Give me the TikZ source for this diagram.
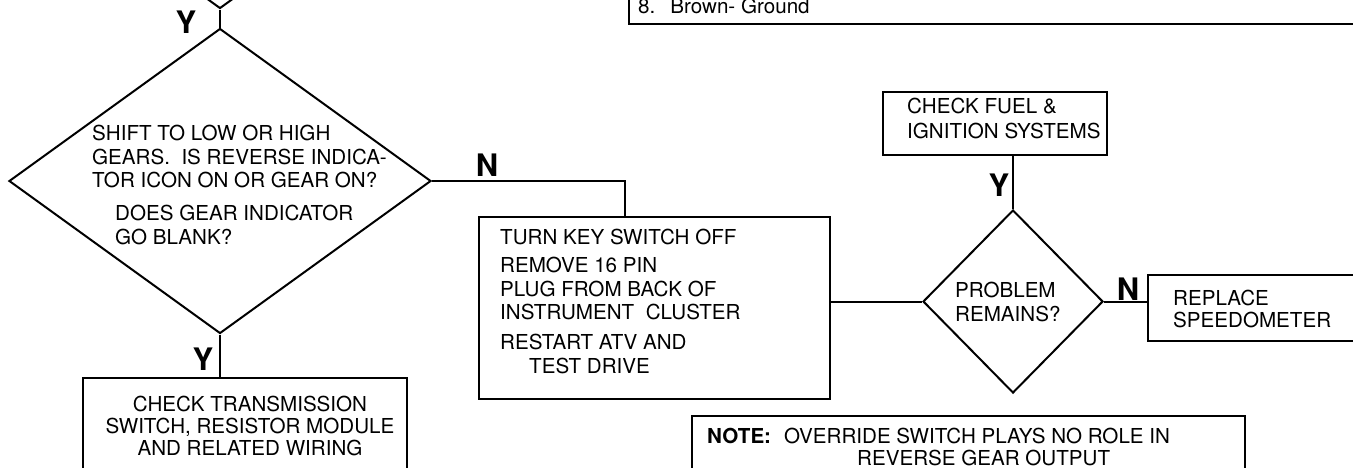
\documentclass[tikz,border=0pt]{standalone}
\usepackage{fontspec}
\setmainfont{TeX Gyre Heros}
\usetikzlibrary{shapes.geometric}

\begin{document}
\begin{tikzpicture}[
    x=1pt, y=-1pt,
    box/.style={draw, line width=2pt, rectangle, inner sep=0pt},
    decision/.style={draw, line width=2pt, diamond, inner sep=0pt},
    txt/.style={inner sep=0pt, anchor=north west, align=left,
                font=\fontsize{20.6}{23.5}\selectfont},
    yn/.style={inner sep=0pt, font=\fontsize{31}{31}\selectfont\bfseries},
    link/.style={line width=2pt}
  ]
  \useasboundingbox (0,0) rectangle (1353,467);
  \clip (0,0) rectangle (1353,467);

  % decisions
  \node[decision, minimum width=422pt, minimum height=305pt] (prevq) at (220,-144) {};
  \node[decision, minimum width=422pt, minimum height=305pt] (q1) at (220,181) {};
  \node[decision, minimum width=180pt, minimum height=183pt] (pr) at (1013,301.5) {};

  % boxes
  \node[box, line width=2.6pt, minimum width=771pt, minimum height=124pt] (legend) at (1014.5,-38) {};
  \node[box, minimum width=324pt, minimum height=122pt] (chk1) at (245,439) {};
  \node[box, minimum width=351pt, minimum height=182pt] (turn) at (654.5,308) {};
  \node[box, minimum width=224pt, minimum height=63pt] (fuel) at (995,123.5) {};
  \node[box, line width=2.6pt, minimum width=252pt, minimum height=66pt] (rep) at (1274,308) {};
  \node[box, minimum width=553pt, minimum height=104pt] (note) at (968.5,468) {};

  % texts
  \node[txt, anchor=base west] (legendt) at (638,13) {8.\hspace{15pt}Brown- Ground};
  \node[txt] (q1t) at (92,125) {SHIFT TO LOW OR HIGH\\
    GEARS.~ IS REVERSE INDICA-\\
    TOR ICON ON OR GEAR ON?\\[9.5pt]
    \hspace*{23pt}DOES GEAR INDICATOR\\
    \hspace*{23pt}GO BLANK?};
  \node[txt, anchor=north, align=center] (chk1t) at (250,396) {CHECK TRANSMISSION\\[-1.5pt]
    SWITCH, RESISTOR MODULE\\[-1.5pt]
    AND RELATED WIRING};
  \node[txt] (turnt) at (500,229) {TURN KEY SWITCH OFF\\[4.5pt]
    REMOVE 16 PIN\\
    PLUG FROM BACK OF\\
    INSTRUMENT~~CLUSTER\\[6.5pt]
    RESTART ATV AND\\
    \hspace*{29pt}TEST DRIVE};
  \node[txt] (prt) at (955,282) {PROBLEM\\ REMAINS?};
  \node[txt] (fuelt) at (907,98) {CHECK FUEL \&\\[1.5pt] IGNITION SYSTEMS};
  \node[txt] (rept) at (1173,290) {REPLACE\\[-1.5pt] SPEEDOMETER};
  \node[txt] (notet) at (707,428) {\textbf{NOTE:}\hspace{13pt}OVERRIDE SWITCH PLAYS NO ROLE IN\\[-1.5pt]
    \hspace*{150pt}REVERSE GEAR OUTPUT};

  % connectors
  \draw[link] (prevq.south) -- (q1.north);
  \draw[link] (q1.south) -- (q1.south |- chk1.north);
  \draw[link] (q1.east) -| ([xshift=-30pt]turn.north);
  \draw[link] (turn.east |- pr.west) -- (pr.west);
  \draw[link] (pr.north) -- (pr.north |- fuel.south);
  \draw[link] (pr.east) -- (pr.east -| rep.west);

  % answers
  \node[yn] (y1) at (186,22) {Y};
  \node[yn] (y2) at (203,359) {Y};
  \node[yn] (n1) at (487,165) {N};
  \node[yn] (y3) at (999,185) {Y};
  \node[yn] (n2) at (1128,289) {N};
\end{tikzpicture}
\end{document}
